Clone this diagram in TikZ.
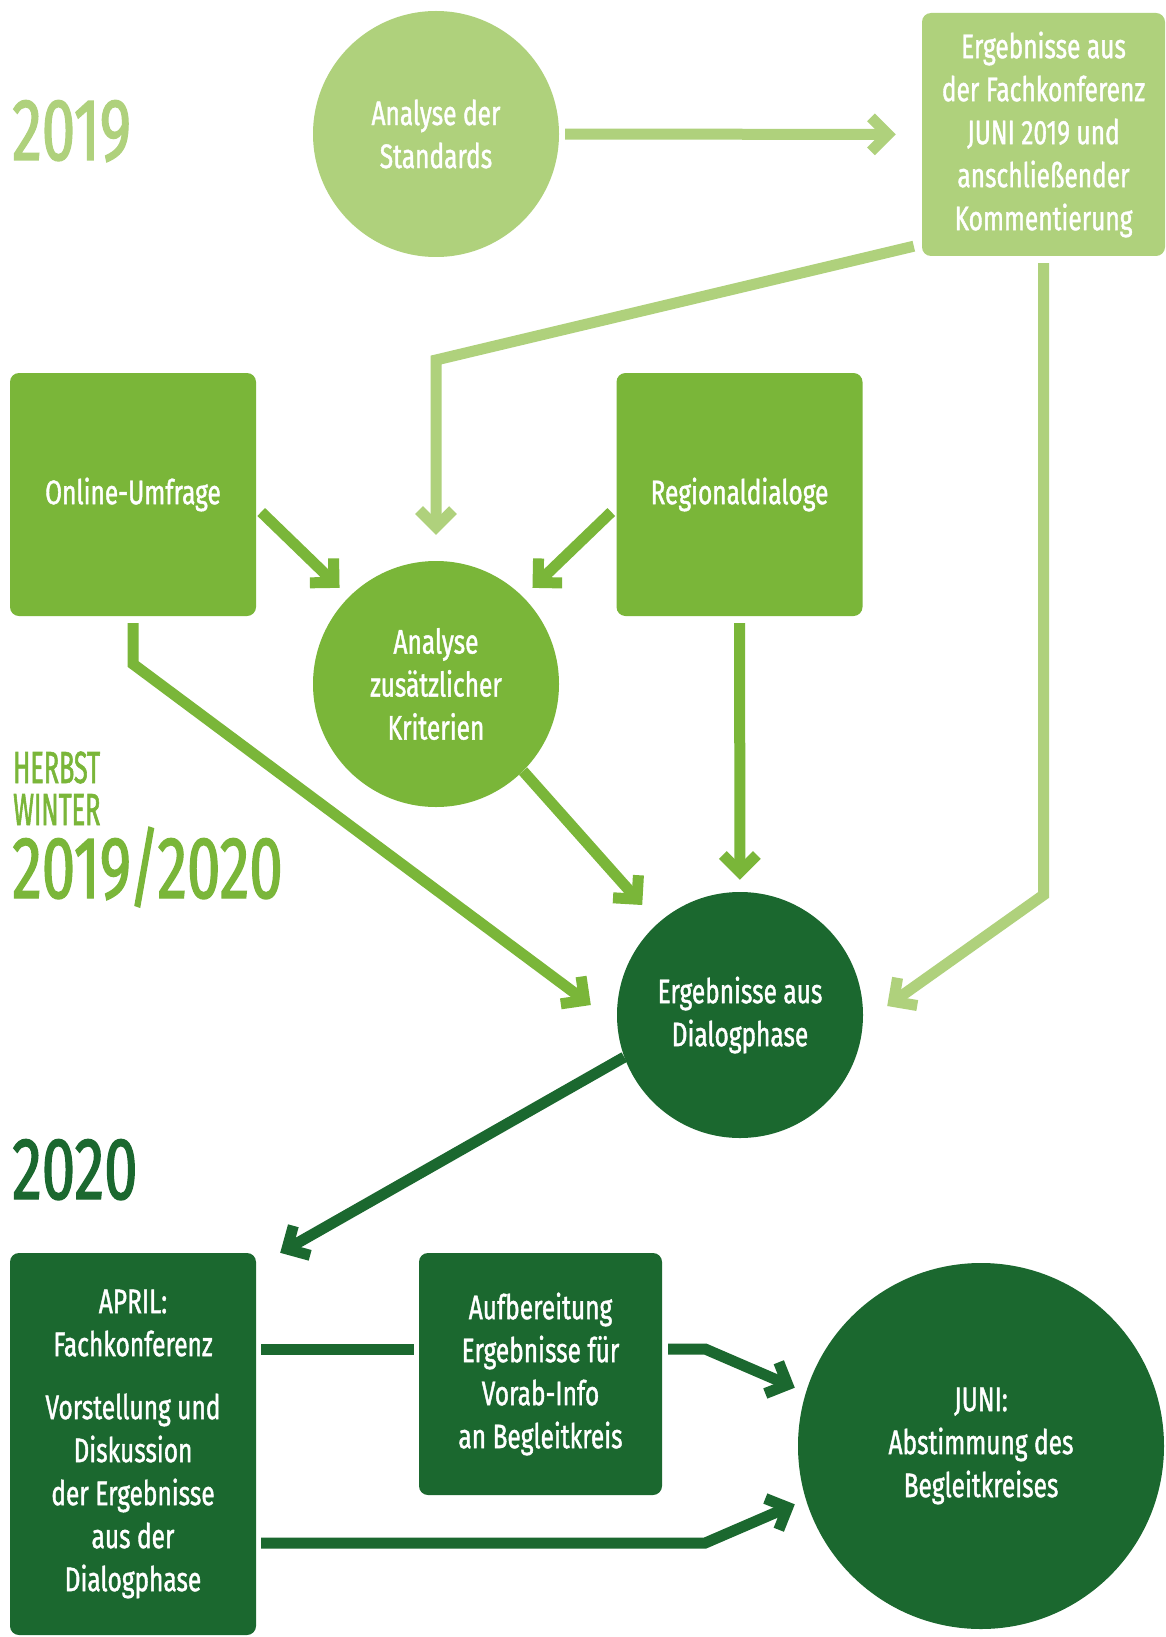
\documentclass[tikz,border=0pt]{standalone}
\usepackage{fontspec}
\setmainfont{Fira Sans}[FakeStretch=0.72, FakeBold=1.2]
\newfontfamily\jahrfont{Fira Sans}[FakeStretch=0.68, FakeBold=1.5]
\newfontfamily\zeitfont{Fira Sans}[FakeStretch=0.56, FakeBold=1.2]
\usepackage{tikz}
\usetikzlibrary{arrows.meta,calc}
\definecolor{hell}{HTML}{AFD17C}
\definecolor{mittel}{HTML}{7AB639}
\definecolor{dunkel}{HTML}{1B682F}
\newcommand\kastenschrift{\fontsize{34}{43}\selectfont}

\begin{document}
\begin{tikzpicture}[x=1pt, y=-1pt,
    kreis/.style={shape=circle, fill=#1, text=white, minimum size=246pt, inner sep=0pt, align=center, font=\kastenschrift},
    kasten/.style={shape=rectangle, rounded corners=9pt, fill=#1, text=white, minimum width=246pt, minimum height=243pt, inner sep=0pt, align=center, font=\kastenschrift},
    pfeil/.style={draw=#1, line width=11pt, -{Straight Barb[sharp, length=17pt, width=34pt]}},
    linie/.style={draw=#1, line width=11pt},
    jahr/.style={anchor=base west, inner sep=0pt, text=#1, font=\jahrfont\fontsize{88}{88}\selectfont},
    zeit/.style={anchor=base west, inner sep=0pt, text=#1, font=\zeitfont\fontsize{45}{45}\selectfont}]
    \path[use as bounding box, fill=white] (0,0) rectangle (1166,1637);

    \node[jahr=hell] (J19) at (12,160) {2019};
    \node[zeit=mittel] (Herbst) at (13,783) {HERBST};
    \node[zeit=mittel] (Winter) at (13,825) {WINTER};
    \node[jahr=mittel] (J1920) at (12,898) {2019/2020};
    \node[jahr=dunkel] (J20) at (12,1199) {2020};

    \node[kreis=hell] (Ana) at (436,134) {Analyse der\\Standards};
    \node[kasten=hell, minimum width=243pt] (Erg) at (1043.5,134.5) {Ergebnisse aus\\der Fachkonferenz\\JUNI 2019 und\\anschließender\\Kommentierung};
    \node[kasten=mittel] (Onl) at (133,494.5) {Online-Umfrage};
    \node[kasten=mittel] (Reg) at (739.5,494.5) {Regionaldialoge};
    \node[kreis=mittel] (Zus) at (436,684) {Analyse\\zusätzlicher\\Kriterien};
    \node[kreis=dunkel] (Dia) at (740,1015) {Ergebnisse aus\\Dialogphase};
    \node[kasten=dunkel, minimum height=382pt] (Apr) at (133,1444) {APRIL:\\Fachkonferenz\\[20pt]Vorstellung und\\Diskussion\\der Ergebnisse\\aus der\\Dialogphase};
    \node[kasten=dunkel, minimum width=243pt, minimum height=242pt] (Auf) at (540.5,1374) {Aufbereitung\\Ergebnisse für\\Vorab-Info\\an Begleitkreis};
    \node[kreis=dunkel, minimum size=366pt] (Jun) at (981,1446) {JUNI:\\Abstimmung des\\Begleitkreises};

    \draw[pfeil=hell, shorten <=6pt, shorten >=26pt] (Ana) -- (Erg);
    \draw[pfeil=hell, shorten >=26pt] ($(Erg.south west)+(-8,-10)$) -- (Zus.north |- 0,360) -- (Zus);
    \draw[pfeil=hell, shorten <=7pt] (Erg.south) -- (Erg.south |- 0,895) -- ($(Dia.east)+(24,-9)$);
    \draw[pfeil=mittel, shorten >=13pt] ($(Onl.east)+(5,17.5)$) -- (Zus.135);
    \draw[pfeil=mittel, shorten >=13pt] ($(Reg.west)+(-5,17.5)$) -- (Zus.45);
    \draw[pfeil=mittel, shorten <=7pt] (Onl.south) -- (Onl.south |- 0,664) -- ($(Dia.west)+(-26,-10)$);
    \draw[pfeil=mittel, shorten >=24pt] (Zus.-45) -- (Dia);
    \draw[pfeil=mittel, shorten <=7pt, shorten >=12pt] (Reg) -- (Dia);
    \draw[pfeil=dunkel] (Dia.200) -- ($(Apr.north east)+(24,0)$);
    \draw[linie=dunkel] ($(Apr.east |- Auf.west)+(5,-25)$) -- ($(Auf.west)+(-5,-25)$);
    \draw[pfeil=dunkel, shorten >=12pt] ($(Auf.east)+(6,-25)$) -- ++(37,0) -- (Jun.163);
    \draw[pfeil=dunkel, shorten >=12pt] ($(Apr.east)+(5,99)$) -- ++(444,0) -- (Jun.197);
\end{tikzpicture}
\end{document}
